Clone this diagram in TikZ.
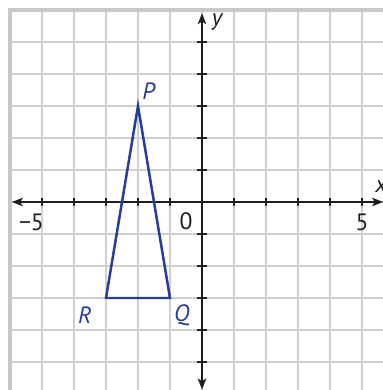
\documentclass[tikz,border=0pt]{standalone}
\usepackage{fontspec}
\setmainfont{PT Sans}
\usetikzlibrary{arrows.meta}
\definecolor{gridgray}{RGB}{208,208,208}
\definecolor{bordergray}{RGB}{200,200,200}
\definecolor{triblue}{RGB}{38,62,152}
\definecolor{axisblack}{RGB}{30,30,30}
\tikzset{
  gridline/.style={draw=gridgray, line width=1.3pt},
  borderline/.style={draw=bordergray, line width=2.7pt},
  axisline/.style={draw=axisblack, line width=2.2pt, {Stealth[length=3.4mm,width=2.6mm,inset=0.8mm]}-{Stealth[length=3.4mm,width=2.6mm,inset=0.8mm]}},
  tickline/.style={draw=axisblack, line width=1.6pt},
  triside/.style={draw=triblue, line width=2.2pt, line join=miter},
  ptlabel/.style={text=triblue, font=\fontsize{21}{24}\selectfont\itshape, inner sep=0pt},
  axlabel/.style={text=axisblack, font=\fontsize{21}{24}\selectfont\itshape, inner sep=0pt},
  numlabel/.style={text=axisblack, font=\fontsize{21}{24}\selectfont, inner sep=0pt}
}
\begin{document}
\begin{tikzpicture}[x=1cm,y=1cm]
\useasboundingbox (-6.3125,-5.875) rectangle (5.656,6.3125);
% grid
\foreach \i in {-5,...,5} \draw[gridline] (\i,-5.9) -- (\i,6);
\foreach \j in {-5,...,5} \draw[gridline] (-6,\j) -- (5.7,\j);
\draw[borderline] (-6,-5.9) -- (-6,6) -- (5.7,6);
% axes
\coordinate (xl) at (-5.94,0);
\coordinate (xr) at (5.66,0);
\coordinate (yt) at (0,5.9);
\coordinate (yb) at (0,-5.86);
\draw[axisline] (xl) -- (xr);
\draw[axisline] (yb) -- (yt);
\foreach \i in {-5,...,-1,1,2,...,5} \draw[tickline] (\i,-0.13) -- (\i,0.13);
\foreach \j in {-5,...,-1,1,2,...,5} \draw[tickline] (-0.17,\j) -- (0.17,\j);
% labels
\node[axlabel] (ylab) at (0.47,5.63) {y};
\node[axlabel] (xlab) at (5.6,0.47) {x};
\node[numlabel] (m5) at (-5.33,-0.63) {−5};
\node[numlabel] (zero) at (-0.5,-0.6) {0};
\node[numlabel] (p5) at (5.0,-0.63) {5};
% triangle
\coordinate (P) at (-2,3);
\coordinate (Q) at (-1,-3);
\coordinate (R) at (-3,-3);
\draw[triside] (P) -- (Q) -- (R) -- cycle;
\node[ptlabel] (Plab) at (-1.67,3.47) {P};
\node[ptlabel] (Qlab) at (-0.63,-3.53) {Q};
\node[ptlabel] (Rlab) at (-3.66,-3.53) {R};
\end{tikzpicture}
\end{document}
